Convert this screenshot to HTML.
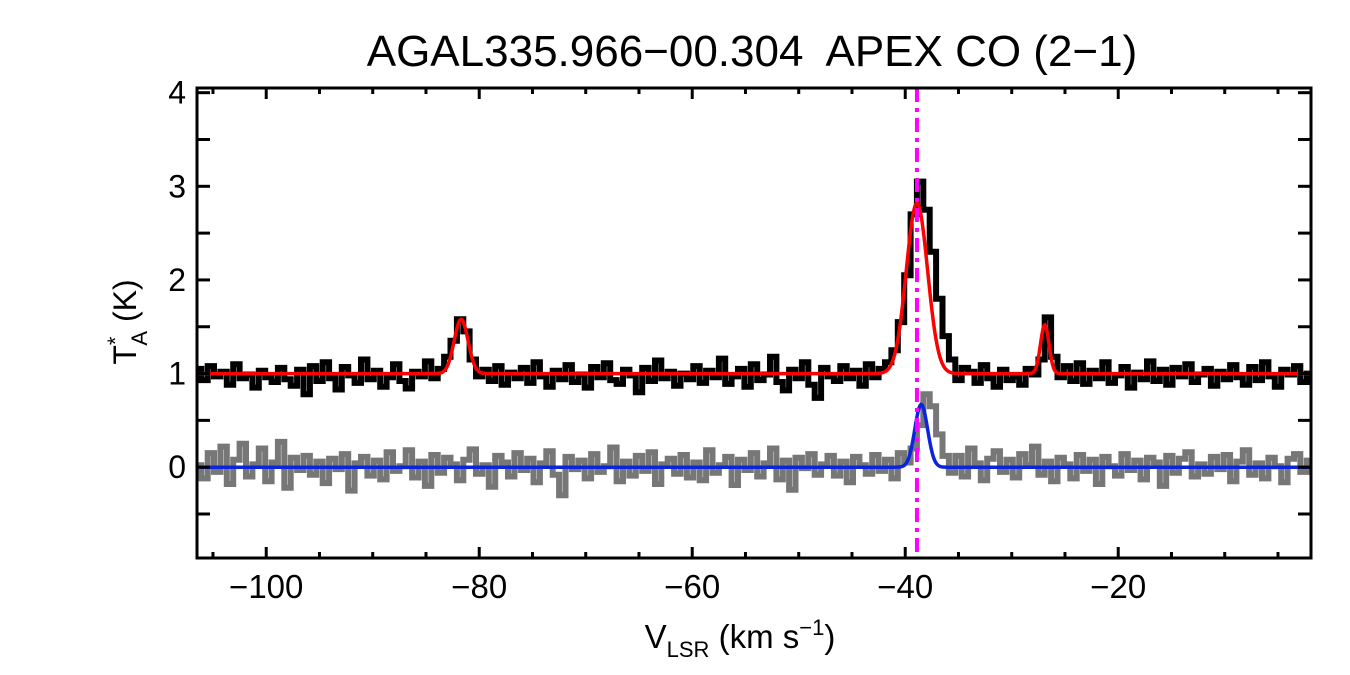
<!DOCTYPE html>
<html><head><meta charset="utf-8"><style>
html,body{margin:0;padding:0;background:#fff;}
svg{display:block;font-family:"Liberation Sans",Arial,sans-serif;}
</style></head><body>
<svg id="chart" width="1350" height="675" viewBox="0 0 1350 675" xmlns="http://www.w3.org/2000/svg">
<rect width="1350" height="675" fill="#fff"/>
<text x="752" y="66" font-size="44" text-anchor="middle" style="white-space:pre" xml:space="preserve">AGAL335.966−00.304  APEX CO (2−1)</text>
<g id="plot"></g>
<text transform="translate(136,322) rotate(-90)" font-size="32" text-anchor="middle">T<tspan font-size="22" dy="-13">*</tspan><tspan font-size="22" dx="-9" dy="24">A</tspan><tspan dy="-11"> (K)</tspan></text>
<text x="740" y="648" font-size="33" text-anchor="middle">V<tspan font-size="22" dy="9">LSR</tspan><tspan dy="-9"> (km s</tspan><tspan font-size="22" dy="-13">−1</tspan><tspan dy="13">)</tspan></text>
</svg>
<script>
const xTicks=[-100,-80,-60,-40,-20];
const yTicks=[0,1,2,3,4];
const v0=-106.4, dv=0.6;
const black=[1.05,0.93,1.08,0.97,1.02,0.88,1.10,0.95,0.99,0.85,1.03,0.96,0.91,1.06,0.94,0.87,1.04,0.78,1.08,0.92,
1.12,0.95,0.83,1.07,0.98,0.90,1.15,0.94,1.03,0.86,0.96,1.10,0.92,0.84,1.02,0.97,1.13,0.95,1.05,1.18,
1.35,1.58,1.45,1.15,0.97,1.04,0.92,1.08,0.88,1.01,0.95,1.06,0.90,1.12,0.97,0.86,1.03,0.94,1.09,0.91,
0.99,0.85,1.07,0.96,1.11,0.93,0.89,1.04,0.98,0.80,1.06,0.92,1.14,0.95,1.02,0.87,1.00,0.94,1.08,0.90,
1.03,0.96,1.16,0.89,0.97,1.05,0.86,1.10,0.93,0.99,1.18,0.91,0.82,1.04,0.95,1.12,0.88,0.74,1.06,0.97,
0.92,1.08,0.95,1.03,0.87,1.10,0.96,1.05,1.12,1.25,1.55,2.05,2.70,3.05,2.75,2.30,1.80,1.40,1.15,0.93,
1.06,1.02,0.90,1.09,0.95,0.86,1.04,0.93,0.97,0.88,1.05,0.99,1.15,1.60,1.18,0.96,1.08,0.92,1.11,0.89,
1.03,0.95,1.12,0.90,0.98,1.07,0.85,1.01,0.94,1.13,0.92,1.04,0.88,1.06,0.97,1.10,0.91,0.99,1.05,0.87,
1.02,0.94,1.09,0.96,0.88,1.07,0.93,1.12,0.97,0.86,1.04,0.99,1.08,0.91,1.00,0.95,1.11,0.89,1.03,0.96,1.07];
const gray=[0.02,-0.12,0.15,-0.05,0.22,-0.18,0.08,0.25,-0.10,0.03,0.20,-0.15,0.05,0.27,-0.22,0.10,-0.03,0.12,-0.08,0.06,
-0.17,0.09,-0.02,0.14,-0.25,0.04,0.11,-0.09,0.07,-0.13,0.16,-0.04,0.01,0.18,-0.11,0.06,-0.20,0.13,-0.06,0.10,
0.03,-0.14,0.08,0.19,-0.07,0.02,-0.21,0.12,0.05,-0.10,0.15,-0.03,0.09,-0.16,0.04,0.17,-0.08,-0.30,0.11,-0.02,
0.07,-0.12,0.14,-0.05,0.01,0.21,-0.15,0.06,-0.09,0.12,-0.04,0.16,-0.18,0.03,0.09,-0.07,0.13,-0.11,0.05,-0.14,
0.18,-0.06,0.02,0.11,-0.19,0.08,-0.03,0.15,-0.10,0.04,0.20,-0.13,0.07,-0.24,0.10,-0.01,0.14,-0.08,0.03,0.12,
-0.09,0.06,-0.16,0.11,0.02,-0.07,0.13,-0.04,0.08,-0.12,0.15,0.05,0.20,0.45,0.78,0.65,0.35,0.12,-0.06,0.12,
-0.10,0.20,0.04,-0.14,0.09,0.17,-0.05,0.08,-0.11,0.14,0.02,0.22,-0.08,0.06,-0.15,0.10,0.03,-0.12,0.13,-0.04,
0.08,-0.18,0.11,0.01,-0.09,0.14,-0.03,0.07,-0.13,0.10,0.05,-0.20,0.12,-0.06,0.09,0.16,-0.10,0.03,-0.07,0.11,
-0.02,0.13,-0.15,0.06,0.18,-0.08,0.04,-0.12,0.10,0.01,-0.16,0.09,0.14,-0.05,0.07,-0.11,0.12,-0.03,0.05,-0.09,0.08];
const redCenters=[-81.7,-38.9,-26.9];
const redAmps=[0.58,1.82,0.52];
const redSigmas=[0.65,1.0,0.4];
const redBase=1.0;
const blueCenters=[-38.5];
const blueAmps=[0.67];
const blueSigmas=[0.6];
const vlsr=-38.9;

const L=197,R=1311,T=88,B=558;
const xmin=-106.5,xmax=-1.9,ymin=-0.97,ymax=4.05;
const X=v=>L+(v-xmin)/(xmax-xmin)*(R-L);
const Y=t=>B-(t-ymin)/(ymax-ymin)*(B-T);
const NS="http://www.w3.org/2000/svg";
const g=document.getElementById('plot');
function mk(tag,attrs){const e=document.createElementNS(NS,tag);for(const k in attrs)e.setAttribute(k,attrs[k]);g.appendChild(e);return e;}
const cp=mk('clipPath',{id:'clip'});
const cr=document.createElementNS(NS,'rect');cr.setAttribute('x',L);cr.setAttribute('y',T);cr.setAttribute('width',R-L);cr.setAttribute('height',B-T);cp.appendChild(cr);
function stepPath(arr){let d='';arr.forEach((t,i)=>{const a=X(v0+dv*i-dv/2),b=X(v0+dv*i+dv/2);d+=(i?'L':'M')+a.toFixed(1)+','+Y(t).toFixed(1)+'L'+b.toFixed(1)+','+Y(t).toFixed(1);});return d;}
function model(base,c,a,s,v){let t=base;for(let k=0;k<c.length;k++)t+=a[k]*Math.exp(-0.5*((v-c[k])/s[k])**2);return t;}
function modelPath(base,c,a,s){let d='';for(let px=L;px<=R;px+=1){const v=xmin+(px-L)/(R-L)*(xmax-xmin);d+=(px===L?'M':'L')+px+','+Y(model(base,c,a,s,v)).toFixed(1);}return d;}
const gs=mk('path',{d:stepPath(gray),fill:'none',stroke:'#777','stroke-width':6,'clip-path':'url(#clip)'});


const bs=mk('path',{d:stepPath(black),fill:'none',stroke:'#000','stroke-width':6,'clip-path':'url(#clip)'});


const bl=mk('path',{d:modelPath(0,blueCenters,blueAmps,blueSigmas),fill:'none',stroke:'#0a24e0','stroke-width':3.5});


const rd=mk('path',{d:modelPath(redBase,redCenters,redAmps,redSigmas),fill:'none',stroke:'#f00','stroke-width':3.5});


const vl=mk('line',{x1:X(vlsr),x2:X(vlsr),y1:T,y2:B,stroke:'#f0f','stroke-width':4,'stroke-dasharray':'14,6,4,6'});


const fr=mk('rect',{x:L,y:T,width:R-L,height:B-T,fill:'none',stroke:'#000','stroke-width':3});


for(let v=-105;v<=0;v+=5){if(X(v)>R)continue;const maj=v%20===0;const h=maj?11:6;
 mk('line',{x1:X(v),x2:X(v),y1:B,y2:B-h,stroke:'#000','stroke-width':3});
 mk('line',{x1:X(v),x2:X(v),y1:T,y2:T+h,stroke:'#000','stroke-width':3});}
xTicks.forEach(v=>{const t=mk('text',{x:X(v),y:598,'font-size':33,'text-anchor':'middle'});t.textContent='−'+Math.abs(v);

});
for(let k=-0.5;k<=4;k+=0.5){const w=13;
 mk('line',{x1:L,x2:L+w,y1:Y(k),y2:Y(k),stroke:'#000','stroke-width':3});
 mk('line',{x1:R,x2:R-w,y1:Y(k),y2:Y(k),stroke:'#000','stroke-width':3});}
yTicks.forEach(k=>{const t=mk('text',{x:186,y:Y(k)+11,'font-size':32,'text-anchor':'end'});t.textContent=k;

});
</script>
</body></html>
